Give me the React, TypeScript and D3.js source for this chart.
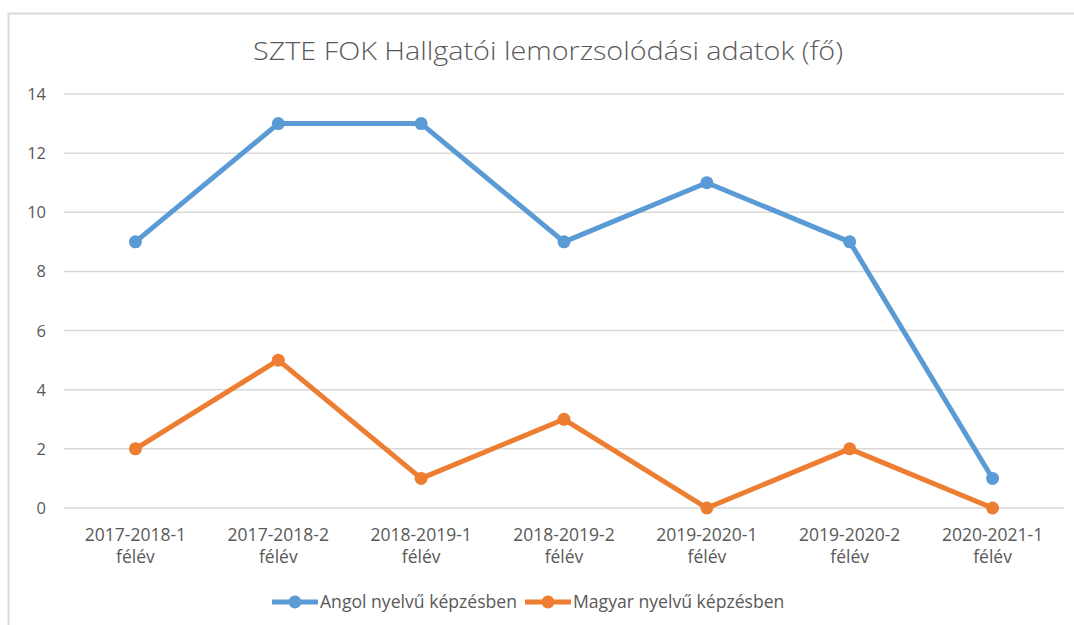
import React from "react";
import * as d3 from "d3";

const categories = [
  "2017-2018-1 félév",
  "2017-2018-2 félév",
  "2018-2019-1 félév",
  "2018-2019-2 félév",
  "2019-2020-1 félév",
  "2019-2020-2 félév",
  "2020-2021-1 félév",
];
const angol = [9, 13, 13, 9, 11, 9, 1];
const magyar = [2, 5, 1, 3, 0, 2, 0];
const yTicks = [0, 2, 4, 6, 8, 10, 12, 14];
const seriesNames = ["Angol nyelvű képzésben", "Magyar nyelvű képzésben"];
const colors = ["#5B9BD5", "#ED7D31"];
const title = "SZTE FOK Hallgatói lemorzsolódási adatok (fő)";

const W = 1074;
const H = 625;
const FONT = "'Open Sans', Lato, sans-serif";

export default function App() {
  const x = d3.scaleBand().domain(categories).range([64, 1064]);
  const y = d3.scaleLinear().domain([0, 14]).range([508, 94]);
  const cx = (c: string) => (x(c) ?? 0) + x.bandwidth() / 2;
  const line = d3
    .line<number>()
    .x((_, i) => cx(categories[i]))
    .y((d) => y(d));
  const series = [angol, magyar];
  const legendX = [272, 525];
  return (
    <svg
      width={W}
      height={H}
      style={{ position: "fixed", left: 0, top: 0, background: "#fff" }}
      fontFamily={FONT}
    >
      <rect x={8.5} y={13.5} width={W} height={H} fill="#fff" stroke="#D9D9D9" strokeWidth={2} />
      <text
        x={548}
        y={60}
        textAnchor="middle"
        fontSize={25}
        fill="#595959"
        fontWeight={300}
        textLength={590}
        lengthAdjust="spacingAndGlyphs"
      >
        {title}
      </text>
      {yTicks.map((t) => (
        <g key={t}>
          <line x1={64} x2={1064} y1={y(t)} y2={y(t)} stroke="#D9D9D9" strokeWidth={1.5} />
          <text x={46} y={y(t) + 6} textAnchor="end" fontSize={16.5} fill="#595959">
            {t}
          </text>
        </g>
      ))}
      {categories.map((c) => {
        const parts = c.split(" ");
        return (
          <text key={c} x={cx(c)} textAnchor="middle" fontSize={17.5} fill="#595959">
            <tspan x={cx(c)} y={541}>{parts[0]}</tspan>
            <tspan x={cx(c)} y={563}>{parts[1]}</tspan>
          </text>
        );
      })}
      {series.map((s, si) => (
        <g key={si}>
          <path d={line(s) ?? ""} fill="none" stroke={colors[si]} strokeWidth={5} strokeLinejoin="round" />
          {s.map((v, i) => (
            <circle key={i} cx={cx(categories[i])} cy={y(v)} r={6.5} fill={colors[si]} />
          ))}
        </g>
      ))}
      {seriesNames.map((n, si) => (
        <g key={n}>
          <line x1={legendX[si]} x2={legendX[si] + 46} y1={602} y2={602} stroke={colors[si]} strokeWidth={5} />
          <circle cx={legendX[si] + 23} cy={602} r={6.5} fill={colors[si]} />
          <text x={legendX[si] + 48} y={608} fontSize={17.6} fill="#595959">
            {n}
          </text>
        </g>
      ))}
    </svg>
  );
}
